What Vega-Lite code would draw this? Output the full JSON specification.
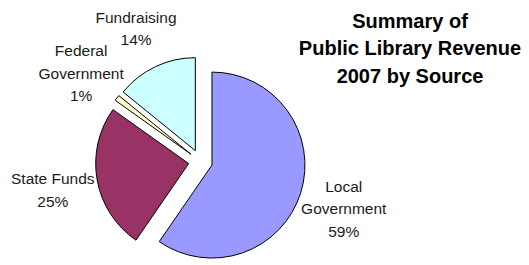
{
  "$schema": "https://vega.github.io/schema/vega-lite/v6.json",
  "width": 401,
  "height": 207,
  "autosize": {"type": "none"},
  "padding": {"left": 0, "top": 58, "right": 128, "bottom": 0},
  "background": "white",
  "view": {"stroke": null},
  "title": {
    "text": ["Summary of", "Public Library Revenue", "2007 by Source"],
    "anchor": "end",
    "align": "center",
    "frame": "group",
    "dx": 9,
    "dy": 80,
    "font": "Liberation Sans",
    "fontSize": 20,
    "fontWeight": "bold",
    "lineHeight": 27.5,
    "color": "black"
  },
  "data": {
    "values": [
      {"source": "Local Government", "label": "Local\nGovernment", "pct": 59},
      {"source": "State Funds", "label": "State Funds", "pct": 25},
      {"source": "Federal Government", "label": "Federal\nGovernment", "pct": 1},
      {"source": "Fundraising", "label": "Fundraising", "pct": 14}
    ]
  },
  "transform": [
    {"window": [{"op": "row_number", "as": "idx"}]},
    {"calculate": "datum.label + '\\n' + datum.pct + '%'", "as": "text"}
  ],
  "encoding": {
    "theta": {"field": "pct", "type": "quantitative", "stack": true},
    "order": {"field": "idx", "type": "quantitative"}
  },
  "layer": [
    {
      "mark": {
        "type": "arc",
        "radius": 93,
        "stroke": "black",
        "strokeWidth": 1,
        "xOffset": {"expr": "12*sin((scale('theta', datum.pct_start)+scale('theta', datum.pct_end))/2)"},
        "yOffset": {"expr": "-12*cos((scale('theta', datum.pct_start)+scale('theta', datum.pct_end))/2)"}
      },
      "encoding": {
        "color": {
          "field": "source",
          "type": "nominal",
          "scale": {
            "domain": ["Local Government", "State Funds", "Federal Government", "Fundraising"],
            "range": ["#9999FF", "#993366", "#FFFFCC", "#CCFFFF"]
          },
          "legend": null
        }
      }
    },
    {
      "mark": {
        "type": "text",
        "radius": 150,
        "font": "Liberation Sans",
        "fontSize": 15.5,
        "lineHeight": 22.5,
        "lineBreak": "\n",
        "fill": "#1a1a1a",
        "dy": {"expr": "3 - (length(split(datum.text, '\\n')) - 1) * 11.25"}
      },
      "encoding": {
        "text": {"field": "text", "type": "nominal"}
      }
    }
  ]
}
